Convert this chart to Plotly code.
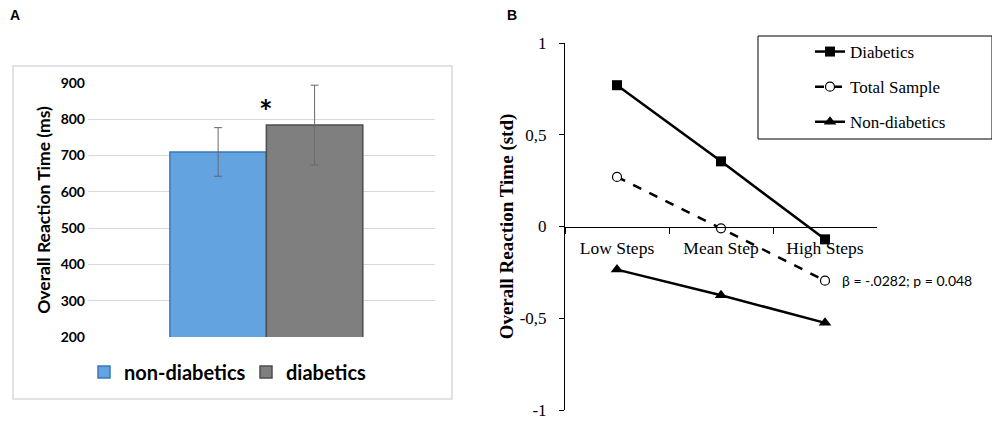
import plotly.graph_objects as go

# panel A: mean overall reaction time per group
groups = ['non-diabetics', 'diabetics']
rt_means = [710, 784]
rt_errors = [67, 110]
bar_colors = ['#62a3e0', '#7f7f7f']
bar_edges = ['#3b77b5', '#4d4d4d']

# panel B: standardised reaction time by step level
steps = ['Low Steps', 'Mean Step', 'High Steps']
diabetics = [0.77, 0.355, -0.07]
total_sample = [0.27, -0.01, -0.295]
non_diabetics = [-0.235, -0.375, -0.525]

y_ticks = [-1, -0.5, 0, 0.5, 1]
y_ticktext = ['-1', '-0,5', '0', '0,5', '1']

# page body has an 8px margin, so the figure is a bit smaller and positions are shifted
OFF = 8
W, H = 1000 - OFF, 422 - OFF


def px(x):
    return max(0, (x - OFF) / W)


def py(y):
    return 1 - (y - OFF) / H


sans = 'Lato, Liberation Sans, Arial, sans-serif'
serif = 'Liberation Serif, Times New Roman, serif'

fig = go.Figure()

for name, val, err, col, edge in zip(groups, rt_means, rt_errors, bar_colors, bar_edges):
    fig.add_trace(go.Bar(
        x=[''], y=[val], name=name, marker=dict(color=col, line=dict(color=edge, width=1.5)),
        error_y=dict(type='data', array=[err], color='#6a6a6a', thickness=1, width=4),
        xaxis='x', yaxis='y', legend='legend'))

line_series = [
    ('Diabetics', diabetics, 'solid', dict(symbol='square', size=10, color='black')),
    ('Total Sample', total_sample, 'dash', dict(symbol='circle', size=9, color='white',
                                               line=dict(color='black', width=1.2))),
    ('Non-diabetics', non_diabetics, 'solid', dict(symbol='triangle-up', size=11, color='black')),
]
for name, vals, dash, mk in line_series:
    fig.add_trace(go.Scatter(
        x=steps, y=vals, name=name, mode='lines+markers',
        line=dict(color='black', width=2.5, dash=dash),
        marker=mk, xaxis='x2', yaxis='y2', legend='legend2', legendgroup=name))

fig.update_layout(
    width=W, height=H, margin=dict(l=0, r=0, t=0, b=0),
    paper_bgcolor='white', plot_bgcolor='white',
    barmode='group', bargap=0.444, bargroupgap=0,
    xaxis=dict(domain=[px(88), px(435)], range=[-0.514, 0.486], showticklabels=False,
               showgrid=False, showline=False, zeroline=False, automargin=False),
    yaxis=dict(domain=[py(337), py(83)], range=[200, 900], dtick=100,
               showgrid=True, gridcolor='#d9d9d9', gridwidth=1.2, zeroline=False, showline=False,
               automargin=False, ticklabelstandoff=2,
               tickfont=dict(family=sans, size=14, color='black', weight='bold'),
               title=dict(text='Overall Reaction Time (ms)', standoff=5,
                          font=dict(family=sans, size=17.5, color='black', weight='bold'))),
    xaxis2=dict(domain=[px(565), px(877)], range=[-0.5, 2.5], anchor='free',
                position=py(227), showline=True, linecolor='black', linewidth=1,
                ticks='outside', tickson='boundaries', ticklen=6, tickcolor='black',
                showgrid=False, zeroline=False, automargin=False, ticklabelstandoff=5,
                tickfont=dict(family=serif, size=17.5, color='black')),
    yaxis2=dict(domain=[py(410), py(43)], range=[-1, 1], anchor='x2',
                tickvals=y_ticks, ticktext=y_ticktext, showline=True, linecolor='black',
                linewidth=1, ticks='outside', ticklen=5, tickcolor='black',
                showgrid=False, zeroline=False, automargin=False, ticklabelstandoff=9,
                tickfont=dict(family=serif, size=17, color='black'),
                title=dict(text='Overall Reaction Time (std)', standoff=1,
                           font=dict(family=serif, size=19, color='black', weight='bold'))),
    legend=dict(orientation='h', x=px(84), y=py(372), xanchor='left', yanchor='middle',
                font=dict(family=sans, size=20, color='black', weight='bold'),
                bgcolor='rgba(0,0,0,0)', entrywidth=117),
    legend2=dict(x=px(810), y=py(34), xanchor='left', yanchor='top',
                 font=dict(family=serif, size=17, color='black'),
                 bgcolor='rgba(0,0,0,0)', tracegroupgap=10),
    shapes=[
        dict(type='rect', xref='paper', yref='paper', x0=px(13), x1=px(452),
             y0=py(399), y1=py(66), line=dict(color='#d9d9d9', width=1.5)),
        dict(type='rect', xref='paper', yref='paper', x0=px(758), x1=px(992),
             y0=py(139), y1=py(36), line=dict(color='black', width=1)),
    ],
    annotations=[
        dict(text='A', x=px(4), y=py(15), xref='paper', yref='paper', showarrow=False,
             xanchor='left', yanchor='middle', font=dict(family='Liberation Sans', size=14,
                                                          color='black', weight='bold')),
        dict(text='B', x=px(505), y=py(15), xref='paper', yref='paper', showarrow=False,
             xanchor='left', yanchor='middle', font=dict(family='Liberation Sans', size=14,
                                                          color='black', weight='bold')),
        dict(text='*', x=px(257), y=842, xref='paper', yref='y', yshift=-7, showarrow=False,
             font=dict(family=sans, size=32, color='black', weight='bold')),
        dict(text='β = -.0282; p = 0.048', x='High Steps', y=total_sample[2], xref='x2', yref='y2',
             xanchor='left', yanchor='middle', xshift=15, showarrow=False,
             font=dict(family=sans, size=14, color='black')),
    ],
)

fig.write_html('out.html')
